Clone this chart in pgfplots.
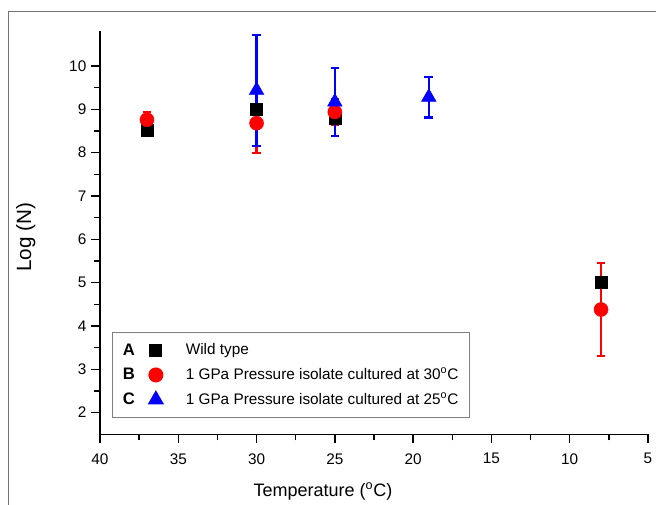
\documentclass[border=0pt]{standalone}
\usepackage{fontspec}
\setmainfont{Liberation Sans}
\usepackage{pgfplots}
\pgfplotsset{compat=1.18}
\usepackage{pgfplotstable}

% temperature, log(N), error
\pgfplotstableread{
x  y     e
37 8.52  0
30 9.01  0.40
25 8.79  0
8  5.00  0
}\wildtype
\pgfplotstableread{
x  y     e
37 8.76  0.175
30 8.68  0.69
25 8.94  0.29
8  4.38  1.07
}\thirty
\pgfplotstableread{
x  y     e
30 9.44  1.28
25 9.17  0.79
19 9.28  0.47
}\twentyfive

\tikzset{letter/.style={font=\fontsize{12.5}{14}\selectfont\bfseries, text=black, anchor=center}}
\pgfplotsset{
  legletter/.style={legend image code/.code={%
      \node[letter] at (-20.25pt,0pt) {#1};
      \draw[##1] plot coordinates {(0pt,0pt)};}},
  ebar/.style={draw=none, mark=none, forget plot,
    error bars/.cd, y dir=both, y explicit,
    error bar style={draw=#1, line width=1.7pt},
    error mark=-,
    error mark options={draw=#1, mark size=3.25pt, line width=1.6pt, rotate=90}},
}

\begin{document}
\begin{tikzpicture}
\path[use as bounding box] (0,0) rectangle (492pt,378pt);
\draw[black!55, line width=0.75pt] (6.2pt,-20pt) rectangle (520pt,369.2pt);
\begin{axis}[
  at={(75pt,52.3pt)}, anchor=south west,
  scale only axis, width=411pt, height=302.2pt,
  xmin=5, xmax=40, x dir=reverse,
  ymin=1.5, ymax=10.8, clip=false,
  axis lines=left, axis line style={-, line width=1.1pt},
  xtick={5,10,...,40}, ytick={2,3,...,10},
  minor x tick num=1, minor y tick num=1,
  tick align=outside, tick style={line width=1.1pt, black},
  major tick length=6.75pt, minor tick length=4.5pt,
  /pgf/number format/assume math mode=true,
  ticklabel style={font=\fontsize{11.5}{13}\selectfont},
  xticklabel style={yshift=-4pt},
  legend style={at={(0.02135,0.2543)}, anchor=north west,
    draw=black!50, line width=0.75pt,
    font=\fontsize{11.5}{13}\selectfont,
    inner xsep=6pt, inner ysep=6.5pt, row sep=4.3pt, column sep=15pt},
  legend cell align=left,
]
\addplot[only marks, mark=square*, mark size=4.5pt, black, legletter=A]
  table[x=x,y=y] {\wildtype};
\addlegendentry{Wild type}
\addplot[only marks, mark=*, mark size=5.25pt, red, legletter=B]
  table[x=x,y=y] {\thirty};
\addlegendentry{1 GPa Pressure isolate cultured at 30\textsuperscript{o}C}
\addplot[only marks, mark=triangle*, mark size=6.3pt, blue, legletter=C]
  table[x=x,y=y] {\twentyfive};
\addlegendentry{1 GPa Pressure isolate cultured at 25\textsuperscript{o}C}

\addplot[ebar=black] table[x=x,y=y,y error=e] {\wildtype};
\addplot[ebar=red] table[x=x,y=y,y error=e] {\thirty};
\addplot[ebar=blue] table[x=x,y=y,y error=e] {\twentyfive};
\end{axis}
\node[font=\fontsize{13.5}{15}\selectfont, anchor=base] at (242.25pt,6pt) {Temperature (\textsuperscript{o}C)};
\node[font=\fontsize{15.5}{17}\selectfont, anchor=base, rotate=90] at (23.25pt,200pt) {Log (N)};
\end{tikzpicture}
\end{document}
